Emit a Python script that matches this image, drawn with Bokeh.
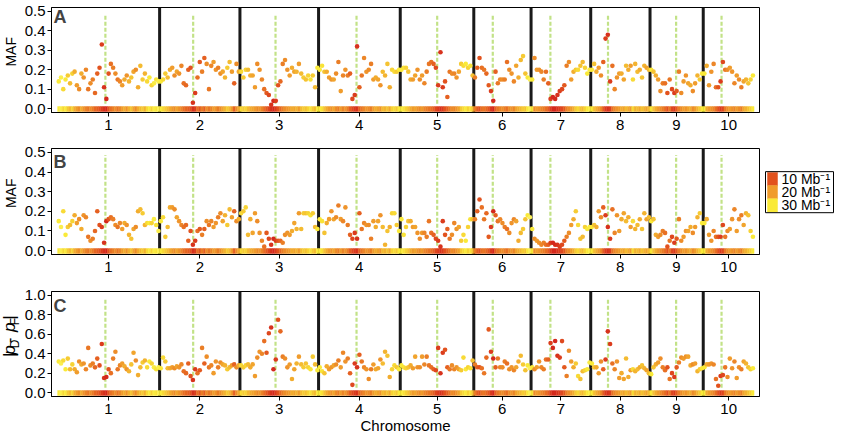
import numpy as np
from bokeh.plotting import figure
from bokeh.models import ColumnDataSource, FixedTicker, PrintfTickFormatter, Label, Range1d, LinearColorMapper
from bokeh.layouts import column, row
from bokeh.embed import file_html
from bokeh.resources import INLINE
from bokeh.core.properties import value

# ---------------------------------------------------------------- data
CHROMS = ["1", "2", "3", "4", "5", "6", "7", "8", "9", "10"]
CHROM_LEN_MB = [301, 237, 232, 241, 217, 169, 176, 175, 157, 150]
CENTROMERE_MB = [141, 99, 105, 112, 109, 56, 57, 51, 77, 54]
WINDOWS = [45, 35, 34, 35, 32, 25, 26, 26, 23, 22]

# panel A: minor allele frequency
maf_a = [
    0.14, 0.16, 0.10, 0.15, 0.17, 0.13, 0.18, 0.19, 0.12, 0.10, 0.18, 0.16, 0.20, 0.10, 0.13, 0.15, 0.08, 0.18, 0.21, 0.33, 0.11, 0.05, 0.18, 0.23, 0.21, 0.18, 0.15, 0.14, 0.12, 0.15, 0.17, 0.14, 0.16, 0.19, 0.20, 0.11, 0.22, 0.15, 0.18, 0.14, 0.16, 0.12, 0.13, 0.15, 0.14,
    0.14, 0.15, 0.18, 0.16, 0.20, 0.21, 0.17, 0.19, 0.18, 0.22, 0.13, 0.12, 0.20, 0.21, 0.03, 0.08, 0.16, 0.24, 0.19, 0.26, 0.23, 0.10, 0.22, 0.24, 0.20, 0.21, 0.18, 0.19, 0.16, 0.21, 0.24, 0.19, 0.13, 0.23, 0.19,
    0.19, 0.16, 0.20, 0.20, 0.17, 0.17, 0.11, 0.23, 0.20, 0.15, 0.10, 0.08, 0.07, 0.02, 0.04, 0.04, 0.12, 0.14, 0.23, 0.25, 0.20, 0.17, 0.21, 0.19, 0.19, 0.23, 0.18, 0.16, 0.15, 0.17, 0.15, 0.17, 0.11, 0.21,
    0.20, 0.22, 0.19, 0.19, 0.16, 0.15, 0.15, 0.18, 0.24, 0.09, 0.17, 0.20, 0.17, 0.18, 0.05, 0.07, 0.32, 0.11, 0.17, 0.26, 0.19, 0.20, 0.23, 0.15, 0.16, 0.15, 0.12, 0.19, 0.17, 0.23, 0.11, 0.20, 0.19, 0.19, 0.20,
    0.20, 0.21, 0.21, 0.19, 0.15, 0.15, 0.17, 0.20, 0.15, 0.17, 0.13, 0.19, 0.23, 0.24, 0.23, 0.21, 0.12, 0.29, 0.11, 0.14, 0.06, 0.19, 0.18, 0.18, 0.16, 0.19, 0.23, 0.22, 0.23, 0.21, 0.22, 0.17,
    0.16, 0.21, 0.26, 0.21, 0.20, 0.18, 0.12, 0.09, 0.04, 0.19, 0.13, 0.15, 0.15, 0.15, 0.24, 0.20, 0.18, 0.14, 0.22, 0.16, 0.25, 0.27, 0.18, 0.16, 0.15,
    0.15, 0.26, 0.20, 0.20, 0.19, 0.15, 0.19, 0.13, 0.05, 0.06, 0.05, 0.07, 0.09, 0.10, 0.12, 0.22, 0.24, 0.15, 0.19, 0.20, 0.20, 0.22, 0.24, 0.21, 0.18, 0.20,
    0.20, 0.23, 0.19, 0.21, 0.17, 0.24, 0.36, 0.38, 0.14, 0.22, 0.10, 0.16, 0.18, 0.18, 0.15, 0.22, 0.20, 0.22, 0.15, 0.23, 0.19, 0.20, 0.16, 0.22, 0.21, 0.20,
    0.20, 0.19, 0.17, 0.15, 0.09, 0.13, 0.13, 0.08, 0.15, 0.10, 0.08, 0.09, 0.19, 0.08, 0.14, 0.17, 0.13, 0.12, 0.09, 0.13, 0.17, 0.15, 0.18,
    0.18, 0.22, 0.12, 0.19, 0.23, 0.11, 0.11, 0.14, 0.24, 0.20, 0.20, 0.21, 0.19, 0.13, 0.17, 0.15, 0.11, 0.14, 0.15, 0.13, 0.15, 0.17,
]

# panel B: minor allele frequency
maf_b = [
    0.15, 0.12, 0.20, 0.08, 0.12, 0.13, 0.15, 0.18, 0.14, 0.16, 0.11, 0.18, 0.17, 0.07, 0.05, 0.06, 0.10, 0.20, 0.13, 0.12, 0.04, 0.15, 0.16, 0.17, 0.16, 0.13, 0.12, 0.14, 0.11, 0.14, 0.13, 0.08, 0.06, 0.11, 0.12, 0.20, 0.21, 0.19, 0.13, 0.14, 0.14, 0.14, 0.16, 0.13, 0.10,
    0.15, 0.17, 0.07, 0.12, 0.22, 0.22, 0.21, 0.17, 0.15, 0.13, 0.12, 0.13, 0.05, 0.10, 0.03, 0.05, 0.10, 0.11, 0.08, 0.11, 0.15, 0.13, 0.15, 0.12, 0.14, 0.17, 0.19, 0.15, 0.18, 0.13, 0.21, 0.17, 0.20, 0.15, 0.16,
    0.19, 0.20, 0.22, 0.08, 0.16, 0.09, 0.19, 0.15, 0.09, 0.05, 0.02, 0.09, 0.06, 0.03, 0.06, 0.05, 0.05, 0.05, 0.04, 0.08, 0.09, 0.08, 0.10, 0.14, 0.11, 0.19, 0.11, 0.19, 0.19, 0.19, 0.18, 0.19, 0.12, 0.11,
    0.16, 0.15, 0.09, 0.14, 0.16, 0.20, 0.16, 0.17, 0.23, 0.16, 0.15, 0.22, 0.13, 0.08, 0.06, 0.09, 0.06, 0.19, 0.11, 0.14, 0.13, 0.13, 0.06, 0.15, 0.12, 0.15, 0.18, 0.12, 0.03, 0.10, 0.12, 0.19, 0.19, 0.13, 0.10,
    0.16, 0.08, 0.12, 0.15, 0.15, 0.12, 0.12, 0.09, 0.06, 0.09, 0.09, 0.07, 0.15, 0.09, 0.08, 0.06, 0.05, 0.02, 0.15, 0.08, 0.11, 0.06, 0.08, 0.14, 0.11, 0.12, 0.05, 0.08, 0.05, 0.12, 0.16, 0.16,
    0.16, 0.20, 0.26, 0.22, 0.16, 0.19, 0.07, 0.12, 0.20, 0.18, 0.15, 0.16, 0.14, 0.12, 0.11, 0.09, 0.14, 0.16, 0.15, 0.05, 0.09, 0.11, 0.16, 0.18, 0.17,
    0.11, 0.06, 0.05, 0.04, 0.03, 0.04, 0.03, 0.03, 0.04, 0.04, 0.03, 0.03, 0.02, 0.03, 0.05, 0.07, 0.09, 0.13, 0.16, 0.20, 0.13, 0.06, 0.07, 0.12, 0.11, 0.12,
    0.12, 0.13, 0.12, 0.20, 0.17, 0.22, 0.18, 0.12, 0.06, 0.21, 0.09, 0.18, 0.10, 0.16, 0.19, 0.15, 0.17, 0.12, 0.15, 0.11, 0.13, 0.16, 0.11, 0.19, 0.16, 0.17,
    0.15, 0.16, 0.08, 0.07, 0.08, 0.10, 0.09, 0.02, 0.05, 0.07, 0.04, 0.06, 0.16, 0.05, 0.07, 0.10, 0.10, 0.12, 0.09, 0.12, 0.17, 0.19, 0.14,
    0.14, 0.16, 0.08, 0.05, 0.10, 0.07, 0.07, 0.07, 0.13, 0.07, 0.10, 0.11, 0.16, 0.21, 0.10, 0.16, 0.18, 0.13, 0.19, 0.18, 0.10, 0.07,
]

# panel C: |pD - pF|
pdiff_c = [
    0.32, 0.30, 0.33, 0.24, 0.35, 0.24, 0.29, 0.24, 0.21, 0.32, 0.29, 0.30, 0.24, 0.46, 0.28, 0.30, 0.26, 0.35, 0.28, 0.50, 0.15, 0.16, 0.24, 0.20, 0.35, 0.42, 0.24, 0.28, 0.30, 0.27, 0.24, 0.22, 0.29, 0.41, 0.33, 0.18, 0.26, 0.31, 0.33, 0.26, 0.32, 0.30, 0.26, 0.24, 0.26,
    0.25, 0.36, 0.32, 0.25, 0.25, 0.26, 0.25, 0.27, 0.26, 0.29, 0.22, 0.20, 0.30, 0.17, 0.13, 0.24, 0.20, 0.23, 0.46, 0.30, 0.37, 0.26, 0.28, 0.20, 0.32, 0.26, 0.31, 0.29, 0.28, 0.24, 0.26, 0.28, 0.29, 0.26, 0.28,
    0.28, 0.26, 0.28, 0.29, 0.26, 0.29, 0.17, 0.36, 0.42, 0.40, 0.53, 0.41, 0.61, 0.67, 0.24, 0.34, 0.75, 0.63, 0.37, 0.35, 0.26, 0.29, 0.14, 0.24, 0.30, 0.37, 0.29, 0.26, 0.30, 0.26, 0.24, 0.37, 0.29, 0.23,
    0.26, 0.22, 0.20, 0.27, 0.24, 0.26, 0.28, 0.29, 0.33, 0.26, 0.41, 0.32, 0.35, 0.20, 0.08, 0.30, 0.26, 0.39, 0.32, 0.26, 0.24, 0.14, 0.24, 0.29, 0.24, 0.25, 0.34, 0.30, 0.42, 0.38, 0.16, 0.24, 0.28, 0.26, 0.24,
    0.28, 0.26, 0.25, 0.26, 0.28, 0.25, 0.37, 0.26, 0.26, 0.37, 0.29, 0.37, 0.28, 0.26, 0.24, 0.23, 0.46, 0.20, 0.41, 0.44, 0.26, 0.24, 0.28, 0.24, 0.26, 0.24, 0.23, 0.36, 0.24, 0.26, 0.25, 0.33,
    0.29, 0.26, 0.26, 0.25, 0.20, 0.36, 0.65, 0.42, 0.35, 0.26, 0.35, 0.26, 0.26, 0.32, 0.30, 0.24, 0.26, 0.23, 0.26, 0.32, 0.38, 0.29, 0.23, 0.28, 0.25,
    0.26, 0.24, 0.26, 0.32, 0.26, 0.24, 0.34, 0.34, 0.51, 0.46, 0.53, 0.38, 0.36, 0.53, 0.26, 0.17, 0.43, 0.32, 0.26, 0.30, 0.17, 0.14, 0.22, 0.23, 0.24, 0.31,
    0.30, 0.26, 0.26, 0.20, 0.32, 0.24, 0.34, 0.63, 0.50, 0.30, 0.24, 0.32, 0.15, 0.20, 0.14, 0.35, 0.16, 0.23, 0.24, 0.22, 0.24, 0.26, 0.28, 0.25, 0.23, 0.20,
    0.19, 0.26, 0.29, 0.31, 0.35, 0.26, 0.23, 0.26, 0.14, 0.20, 0.16, 0.26, 0.31, 0.36, 0.35, 0.37, 0.37, 0.28, 0.29, 0.30, 0.22, 0.24, 0.25,
    0.26, 0.29, 0.29, 0.30, 0.29, 0.14, 0.07, 0.17, 0.18, 0.26, 0.16, 0.35, 0.25, 0.32, 0.15, 0.26, 0.24, 0.32, 0.30, 0.26, 0.24, 0.25,
]

# marker density per window (markers per Mb)
density = [
    30, 32, 28, 30, 26, 24, 27, 22, 20, 18, 22, 19, 17, 15, 18, 16, 13, 12, 10, 8, 7, 6, 10, 14, 16, 18, 15, 17, 20, 22, 19, 23, 25, 21, 18, 22, 24, 26, 23, 28, 30, 27, 31, 29, 32,
    30, 28, 26, 24, 22, 20, 18, 21, 19, 17, 14, 13, 12, 10, 7, 8, 14, 11, 16, 12, 18, 15, 17, 20, 19, 16, 18, 21, 23, 26, 24, 20, 12, 18, 22,
    28, 26, 27, 24, 22, 21, 20, 18, 19, 17, 14, 11, 9, 7, 6, 8, 10, 13, 16, 18, 19, 20, 22, 21, 23, 20, 24, 26, 25, 27, 29, 26, 24, 30,
    30, 29, 25, 22, 20, 19, 21, 18, 16, 20, 17, 19, 16, 12, 9, 8, 7, 12, 15, 17, 19, 18, 16, 20, 22, 21, 19, 24, 23, 25, 22, 27, 28, 26, 30,
    30, 29, 27, 25, 22, 20, 21, 19, 18, 20, 17, 16, 15, 14, 12, 9, 8, 7, 8, 10, 12, 15, 18, 17, 19, 21, 26, 28, 30, 27, 29, 25,
    16, 12, 10, 14, 15, 13, 11, 8, 6, 12, 15, 17, 18, 16, 14, 18, 19, 17, 21, 22, 24, 26, 25, 30, 33,
    30, 18, 20, 19, 17, 16, 14, 12, 8, 6, 6, 7, 8, 9, 11, 16, 18, 20, 22, 26, 28, 25, 24, 27, 30, 31,
    30, 25, 22, 20, 18, 12, 8, 7, 8, 14, 17, 19, 20, 22, 21, 24, 22, 20, 28, 23, 24, 22, 25, 23, 21, 24,
    30, 25, 22, 20, 18, 16, 14, 10, 15, 9, 8, 11, 16, 18, 20, 19, 21, 22, 18, 20, 23, 26, 30,
    30, 22, 20, 19, 17, 14, 10, 8, 9, 15, 18, 20, 19, 17, 20, 18, 16, 21, 23, 25, 27, 30,
]

LEGEND_DENSITY = [10, 20, 30]
LEGEND_LABELS = ["10 Mb\u207b\u00b9", "20 Mb\u207b\u00b9", "30 Mb\u207b\u00b9"]

# ---------------------------------------------------------------- geometry
FONT = "Liberation Sans"
SIDE_W = 20        # strip holding the rotated y-axis titles
AXIS_W = 31        # room for ticks and tick labels
LEFT = SIDE_W + AXIS_W
FRAME_W = 708
X0, X1 = -18, 2071

starts = np.concatenate([[0], np.cumsum(CHROM_LEN_MB)[:-1]]).astype(float)
ends = np.cumsum(CHROM_LEN_MB).astype(float)
centers = [int(round(s + L / 2)) for s, L in zip(starts, CHROM_LEN_MB)]
cen_pos = starts + np.array(CENTROMERE_MB, dtype=float)

win_x, win_w = [], []
for s, L, n in zip(starts, CHROM_LEN_MB, WINDOWS):
    w = L / n
    win_x += list(s + (np.arange(n) + 0.5) * w)
    win_w += [w] * n

# density colour ramp: red (sparse) -> orange -> yellow (dense)
anchors = [(5, (208, 30, 28)), (10, (226, 82, 30)), (20, (240, 156, 44)),
           (30, (250, 234, 56)), (36, (252, 246, 118))]


def build_palette(n=256):
    lo, hi = anchors[0][0], anchors[-1][0]
    out = []
    for v in np.linspace(lo, hi, n):
        for (a, ca), (b, cb) in zip(anchors[:-1], anchors[1:]):
            if a <= v <= b:
                t = (v - a) / (b - a)
                c = [int(round(ca[k] + t * (cb[k] - ca[k]))) for k in range(3)]
                out.append("#%02x%02x%02x" % tuple(c))
                break
    return out


mapper = LinearColorMapper(palette=build_palette(), low=anchors[0][0], high=anchors[-1][0])
dens_color = {"field": "density", "transform": mapper}


def blank(width, height):
    """A bare figure whose data units are pixels, origin at the bottom-left."""
    f = figure(width=width, height=height, x_range=Range1d(0, width),
               y_range=Range1d(0, height), output_backend="svg",
               toolbar_location=None, title=None, x_axis_type=None,
               y_axis_type=None, min_border=0)
    f.outline_line_color = None
    f.xgrid.visible = False
    f.ygrid.visible = False
    return f


def make_panel(values, height, top, frame_h, y0, y1, yticks, letter, letter_py,
               width, right, xlabel=None):
    p = figure(width=width, height=height, title=None,
               x_range=Range1d(X0, X1), y_range=Range1d(y0, y1),
               output_backend="svg", toolbar_location=None,
               min_border_left=AXIS_W, min_border_right=right,
               min_border_top=top, min_border_bottom=height - top - frame_h)
    p.xgrid.visible = False
    p.ygrid.visible = False
    p.outline_line_color = "black"
    p.outline_line_width = 1

    ppu = frame_h / (y1 - y0)
    ymax = yticks[-1]
    # centromeres
    p.segment(x0=cen_pos, x1=cen_pos, y0=[0.05 * ymax] * len(cen_pos),
              y1=[0.975 * ymax] * len(cen_pos), line_color="#c2e287",
              line_width=2.2, line_dash="4 2")
    # chromosome boundaries
    bx = ends[:-1]
    p.segment(x0=bx, x1=bx, y0=[y0] * len(bx), y1=[y1] * len(bx),
              line_color="#1a1a1a", line_width=3)
    # marker density strip along the genome
    strip = ColumnDataSource(dict(x=win_x, w=win_w, density=density))
    p.vbar(x="x", width="w", bottom=y0 + 1.0 / ppu, top=y0 + 6.0 / ppu,
           source=strip, fill_color=dens_color, line_color=dens_color,
           line_width=0.4)
    # window estimates
    src = ColumnDataSource(dict(x=win_x, y=values, density=density))
    p.scatter("x", "y", source=src, size=4.6, fill_color=dens_color,
              line_color=None)

    p.xaxis.ticker = FixedTicker(ticks=centers)
    p.xaxis.major_label_overrides = {c: n for c, n in zip(centers, CHROMS)}
    p.yaxis.ticker = FixedTicker(ticks=yticks)
    p.yaxis.formatter = PrintfTickFormatter(format="%.1f")
    for ax in (p.xaxis, p.yaxis):
        ax.major_tick_out = 4
        ax.major_tick_in = 0
        ax.minor_tick_line_color = None
        ax.axis_line_color = "black"
        ax.major_tick_line_color = "black"
        ax.major_label_text_font = FONT
        ax.major_label_text_font_size = "15px"
        ax.major_label_text_color = "black"
    p.xaxis.major_label_standoff = 3
    p.yaxis.major_label_standoff = 2
    if xlabel is not None:
        p.xaxis.axis_label = xlabel
        p.xaxis.axis_label_standoff = 0
        p.xaxis.axis_label_text_font = FONT
        p.xaxis.axis_label_text_font_size = "15px"
        p.xaxis.axis_label_text_font_style = "normal"
        p.xaxis.axis_label_text_color = "black"

    # panel letter, in the top-left corner of the plotting area
    lx = X0 + 2 / FRAME_W * (X1 - X0)
    ly = y1 - (letter_py - top) / ppu
    p.add_layout(Label(x=lx, y=ly, text=letter, text_font=FONT,
                       text_font_size="18px", text_font_style="bold",
                       text_align="left", text_baseline="middle"))
    return p


def side_title(height, top, frame_h, text):
    s = blank(SIDE_W, height)
    s.text(x=[10], y=[height - (top + frame_h / 2)], text=[text], angle=np.pi / 2,
           text_font=value(FONT), text_font_size="14px",
           text_align="center", text_baseline="middle")
    return s


def side_title_pdiff(height, top, frame_h):
    # |p_D - p_F| read upwards: italic p, subscript population letters.
    # Every piece is centred on its own slot so the rotation pivot is its middle.
    s = blank(SIDE_W, height)
    main, sub = 17, 12
    pieces = [("|", "bar"), ("p", "it"), ("D", "sub"), (" - ", "bar"),
              ("p", "it"), ("F", "sub"), ("|", "bar")]
    em = {"|": 0.26, "p": 0.556, "D": 0.722, "F": 0.611, " - ": 0.889}
    size_of = {"bar": main, "it": main, "sub": sub}
    x_of = {"bar": 9, "it": 9, "sub": 14}
    total = sum(em[t] * size_of[k] for t, k in pieces)
    cur = height - (top + frame_h / 2 + 4) - total / 2
    groups = {"bar": ([], [], []), "it": ([], [], []), "sub": ([], [], [])}
    for t, k in pieces:
        w = em[t] * size_of[k]
        xs, ys, ts = groups[k]
        xs.append(x_of[k])
        ys.append(cur + w / 2)
        ts.append(t)
        cur += w
    for k, style in (("bar", "normal"), ("it", "italic"), ("sub", "normal")):
        xs, ys, ts = groups[k]
        s.text(x=xs, y=ys, text=ts, angle=np.pi / 2,
               text_font=value(FONT), text_font_size=f"{size_of[k]}px",
               text_font_style=value(style), text_align="center",
               text_baseline="middle")
    return s


YT_MAF = [0, 0.1, 0.2, 0.3, 0.4, 0.5]
YT_DIFF = [0, 0.2, 0.4, 0.6, 0.8, 1.0]

pA = make_panel(maf_a, 141, 7, 105, -0.02, 0.52, YT_MAF, "A", 16.5, 842 - SIDE_W, 83)
sA = side_title(141, 7, 105, "MAF")

pB = make_panel(maf_b, 142, 7, 106, -0.02, 0.52, YT_MAF, "B", 20, 760 - SIDE_W, 1)
sB = side_title(142, 7, 106, "MAF")

pC = make_panel(pdiff_c, 153, 8, 106, -0.04, 1.04, YT_DIFF, "C", 23, 842 - SIDE_W, 83,
                xlabel="Chromosome")
sC = side_title_pdiff(153, 8, 106)

# legend for marker density (pixel units, measured from the top)
LEG_H = 142
leg = blank(82, LEG_H)
n_leg = len(LEGEND_DENSITY)
box_top, box_bot = 31, 86
patch_h = (box_bot - box_top - 2) / n_leg
tops = [box_top + 1 + i * patch_h for i in range(n_leg)]
lsrc = ColumnDataSource(dict(top=[LEG_H - t for t in tops],
                             bottom=[LEG_H - t - patch_h for t in tops],
                             density=LEGEND_DENSITY, label=LEGEND_LABELS,
                             ty=[LEG_H - t - patch_h / 2 for t in tops]))
leg.quad(left=7, right=17, top="top", bottom="bottom", source=lsrc,
         fill_color=dens_color, line_color=dens_color, line_width=0.5)
leg.quad(left=[5], right=[73], top=[LEG_H - box_top], bottom=[LEG_H - box_bot],
         fill_color=None, line_color="black", line_width=1)
leg.text(x=21, y="ty", text="label", source=lsrc, text_font=value(FONT),
         text_font_size="14px", text_baseline="middle", text_align="left")

layout = column(row(sA, pA), row(sB, pB, leg), row(sC, pC))
open("out.html", "w").write(file_html(layout, INLINE))
